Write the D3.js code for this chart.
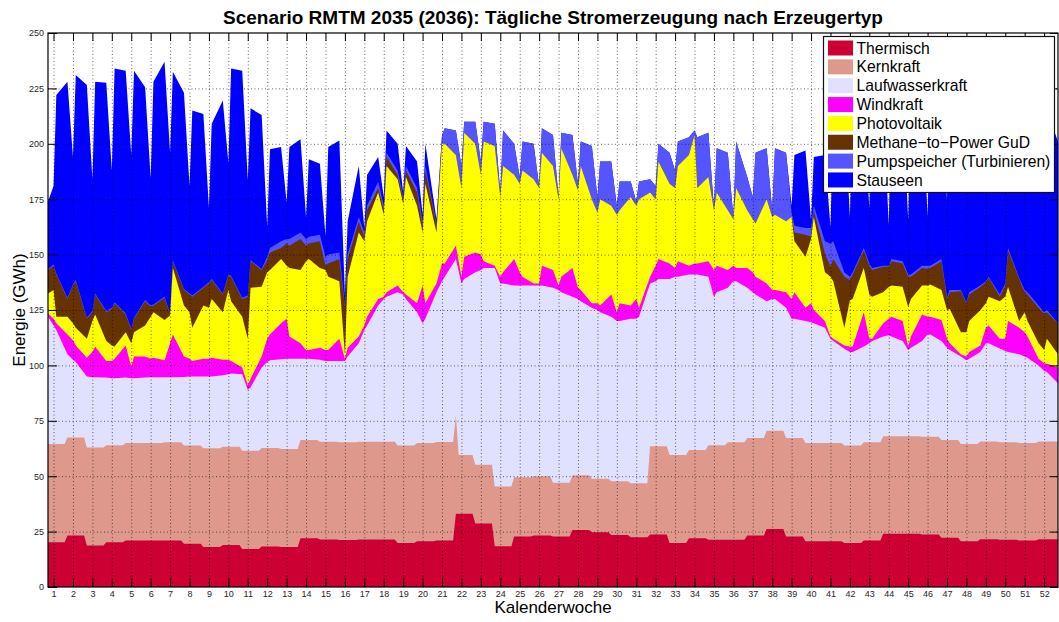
<!DOCTYPE html>
<html>
<head>
<meta charset="utf-8">
<title>Tägliche Stromerzeugung nach Erzeugertyp</title>
<script src="https://d3js.org/d3.v7.min.js"></script>
<style>
  body { margin: 0; background: #fff; }
  svg text { font-family: "Liberation Sans", Arial, Helvetica, sans-serif; }
  .grid line { stroke: #000; stroke-opacity: 0.6; stroke-dasharray: 1,2.5; }
  .grid .domain { display: none; }
</style>
</head>
<body>
<div id="chart"></div>
<script>
// Kalendertage der Stützpunkte (je Woche: Wochenend-Tief, Folgetag, Wochenmitte)
const days = [1,
  3,4,8, 10,11,15, 17,18,22, 24,25,29, 31,32,36, 38,39,43, 45,46,50, 52,53,57, 59,60,64, 66,67,71,
  73,74,78, 80,81,85, 87,88,92, 94,95,99, 101,102,106, 108,109,113, 115,116,120, 122,123,127, 129,130,134, 136,137,141,
  143,144,148, 150,151,155, 157,158,162, 164,165,169, 171,172,176, 178,179,183, 185,186,190, 192,193,197, 199,200,204, 206,207,211,
  213,214,218, 220,221,225, 227,228,232, 234,235,239, 241,242,246, 248,249,253, 255,256,260, 262,263,267, 269,270,274, 276,277,281,
  283,284,288, 290,291,295, 297,298,302, 304,305,309, 311,312,316, 318,319,323, 325,326,330, 332,333,337, 339,340,344, 346,347,351,
  353,354,358, 360,361,365];

// Wochenwerte (Woche j umfasst Tag 7j+1 .. 7j+7), GWh/Tag
const thermisch = [20.2, 23.2, 18.7, 20.2, 21.0, 21.0, 21.0, 19.5, 18.0, 19.0,
  17.2, 18.3, 18.0, 22.0, 21.4, 21.2, 21.4, 21.4, 19.8, 20.7,
  21.0, 33.0, 28.7, 18.4, 22.8, 23.2, 22.8, 25.7, 24.7, 23.5,
  22.5, 23.7, 19.8, 22.0, 21.3, 21.3, 23.2, 26.2, 22.8, 20.7,
  20.7, 19.8, 21.0, 24.0, 24.0, 23.7, 22.2, 20.7, 21.6, 21.3,
  21.0, 21.6, 21.6];
const kernkraft = [44.3, 44.3, 44.3, 43.8, 44.0, 44.0, 44.3, 44.3, 44.6, 44.3,
  44.3, 44.4, 44.3, 44.3, 44.2, 44.1, 44.2, 44.2, 44.0, 44.3,
  44.4, 26.6, 26.5, 26.9, 26.7, 26.8, 24.2, 24.7, 24.1, 24.2,
  24.3, 39.8, 39.8, 39.8, 42.7, 44.0, 44.0, 44.3, 44.4, 44.3,
  44.3, 44.0, 44.3, 44.0, 44.0, 44.1, 44.1, 43.8, 44.1, 44.0,
  44.0, 44.1, 44.1];
const kernkraftTag = { 148: 44.4 };

const laufwasserkraft = [57.5,
  53.5,51.5,37.5, 35,34,32, 31.7,31.7,30.5, 30.2,30.2,29.5, 29.2,29.2,29.5, 29.7,29.7,29.4, 29.4,29.4,31, 31.2,31.2,32.4, 32.4,32.4,32.2, 32.7,33,34.5,
  27.5,28.5,36.3, 38.8,39.6,40.5, 40.7,40.7,36.7, 36.7,36.7,36.9, 36.4,36.4,36.7, 36.7,38.7,44.4, 50.4,52.4,61.4, 64.4,65.4,69.2, 68.2,66.2,59, 54,56,67.6,
  72.6,74.6,70.6, 77.4,79.4,86.8, 87.8,88.8,98.7, 91.7,91.7,86.5, 86.5,86.5,86, 86,86,88, 87,86,80.6, 79.6,78.6,77.2, 76.2,75.2,74.3, 72.3,72.3,74.2,
  74.2,75.2,73.5, 74.5,75.5,79.4, 80.4,80.4,79.2, 79.2,79.2,76, 67,69,69.7, 72.7,72.7,67.8, 65.8,64.8,58.5, 59.5,59.5,58.8, 53.8,53.8,55, 54.5,54,52,
  47,46,43.7, 42.3,42.2,43.2, 44.7,45.7,45, 45.6,45,43, 39,40,43.2, 46.2,46.2,44.7, 41.7,40.7,39.5, 37.8,38.5,40.3, 44.2,44.3,42.3, 41.2,40.7,40,
  39,38.5,34.3, 31.8,31.3,26.3];
const windkraft = [1.4,
  3,3,9, 8.9,7.5,8.5, 11.3,13.7,7.5, 7.8,8.8,14.5, 5.3,9.8,9.5, 8.3,8.8,7.6, 15.3,19.3,9.2, 8,7,8, 8,8.5,7, 6.5,5.7,3,
  2,4,5, 10.5,11.7,16.2, 18,10,7, 4,4,5.5, 5,5,10, 1,4,3, 2,4,3, 1,2,3, 1,2,4, 17,7,4,
  8,6,6, 3,10,9, 7,3,1, 3,5,12, 6,4,1, 1,9,8, 2,7,13, 5,5,2, 3,3,10, 4,8,6,
  9,4,3, 7,9,7, 4,7,4, 5,5,7, 12,12,8, 7,6,9, 9,8,8, 4,4,7, 9,12,6, 8.5,6,3,
  1,1,1.5, 2.3,2.5,15.5, 2,1,6, 7.4,9,9, 1.4,5,12, 8,8,9.5, 4,3,1, 1.7,3,3, 7.1,8,4.4, 5.5,14,12,
  11,9.5,3, 3.5,3.8,7];
const photovoltaik = [9.1,
  13,3,8, 7.6,8,8.5, 14,14.6,9, 7,5.5,6, 10.5,11,14, 19,20.5,18.2, 12.5,30,23, 21,15,24, 23,26.5,21.5, 31.5,27,23,
  21,41,31.5, 30,29,29, 24,31,33, 40,41,36, 36,33,26, 2,32,47, 38,43,48, 37,57,48, 40,53,44, 24,54,23,
  54,54,41, 40,56,49, 36,54,54, 36,48,38, 40,48,47, 43,51,47, 39,58,42, 44,56,47, 41,48,40, 44,42,49,
  42,49,38, 30,44,36, 36,43,50, 58,34,38, 27,33,27, 21,36,26, 24,24,38, 33,34,32, 37,23,23, 29,42,22,
  27,26,8, 21,21.5,20, 20,19,14, 14.4,14,15.5, 18,17,13, 14,14.5,13.5, 13,15.5,10, 11,14,15.9, 11,13,17, 19,15.4,3,
  9,7,7, 6,11.2,6];
const methaneGuD = [10.5,
  11,19,8, 17,21,9, 4,9,13, 16.5,19.5,8, 6,6,11, 4.5,3,10, 0.5,3,7, 8,14,8, 11,8.5,8, 6.5,11,8,
  19,12,7.5, 5.5,8,5, 10,10,14, 7,7,12, 2,6,10, 21,8,5, 2,5,2, 2,4,2, 2,3,6, 3,6,3,
  0,0,0, 0,0,0, 0,0,0, 0,0,0, 0,0,0, 0,0,0, 0,0,0, 0,0,0, 0,0,0, 0,0,0,
  0,0,0, 0,0,0, 0,0,0, 0,0,0, 0,0,0, 0,0,0, 0,0,0, 0,0,0, 0,4,10, 1,3,8.5,
  4.5,10,23, 9.1,11,8, 13,12,11.5, 9.1,11,10.5, 13.6,10,8, 7.5,7.5,13, 5,7.5,18.5, 13,12,10.5, 9.5,8.5,2, 5,16.6,19,
  9,12,16, 16.4,12,13.9];
const pumpspeicher = [0.5,
  0.5,0.5,0.5, 0.5,0.5,0.5, 0.5,0.5,0.5, 0.5,0.5,0.5, 0.5,0.5,0.5, 0.5,0.5,0.5, 0.5,0.5,0.5, 0.5,0.5,0.5, 0.5,0.5,0.5, 0.5,0.5,0.5,
  0.5,0.5,0.5, 1.5,2,3, 2,3,3, 3,3,3, 4,4,3, 1,2,2, 2,2,3, 2,2,2, 1,2,2, 2,2,1,
  4,7,11, 10,5,10, 6,9,10, 2,16,14, 3,13,16, 1,11,14, 1,7,18, 3,11,24, 7,17,20, 4,13,7,
  2,8,6, 6,8,14, 8,11,8, 2,23,20, 1,20,26, 1,21,15, 10,32,23, 3,30,31, 2,3,3, 4,2,5.5,
  10.5,8,2, 1.5,1,1, 1,1,0.5, 0.5,1,1, 1,1,1, 1.5,1,1, 1,1,0.5, 0.5,1,0.6, 0.5,0.5,1, 1,1,0.5,
  1,1,1, 0.6,1,0.1];
const stauseen = [30.5,
  35.5,80.5,97.5, 57.5,92.5,105, 59.5,95.5,103, 62,105.5,109.5, 78.5,111.5,96, 57.5,100.5,106, 72.5,85,88.5, 48.5,83.5,78, 33.5,70,87, 50.5,93.5,102.5,
  52,68.5,69.5, 13.5,44.5,42.5, 16.5,41.5,42, 9.7,35,32, 9.4,48.5,50.5, 5,15,23, 2,14,11, 4,10,12, 2,9,12, 3,10,2,
  0,0,0, 0,0,0, 0,0,0, 0,0,0, 0,0,0, 0,0,0, 0,0,0, 0,0,0, 0,0,0, 0,0,0,
  0,0,0, 0,0,0, 0,0,0, 0,0,0, 0,0,0, 0,0,0, 0,0,0, 0,0,0, 3,32,35, 3.5,22,39,
  7.5,56,74, 27,72,65, 24.8,74,75, 18.3,72,75, 24.5,81,79, 22,79,78, 43.6,92,92, 56.5,93,92, 48,88,98, 51,77,109.5,
  56,99,105, 61,90,82];

const kalenderwochen = [1,2,3,4,5,6,7,8,9,10,11,12,13,14,15,16,17,18,19,20,21,22,23,24,25,26,
  27,28,29,30,31,32,33,34,35,36,37,38,39,40,41,42,43,44,45,46,47,48,49,50,51,52];
const yTicks = [0, 25, 50, 75, 100, 125, 150, 175, 200, 225, 250];

const colors = {
  'Thermisch': '#CC0033',
  'Kernkraft': '#DF998C',
  'Laufwasserkraft': '#E0E0FF',
  'Windkraft': '#FF00FF',
  'Photovoltaik': '#FFFF00',
  'Methane\u2212to\u2212Power GuD': '#663300',
  'Pumpspeicher (Turbinieren)': '#5555FF',
  'Stauseen': '#0000FF'
};

const width = 1059, height = 622;
const margin = { top: 33, right: 1, bottom: 35, left: 48 };
const plotW = width - margin.left - margin.right;
const plotH = height - margin.top - margin.bottom;

const x = d3.scaleLinear().domain([1, 365]).range([margin.left, margin.left + plotW]);
const y = d3.scaleLinear().domain([0, 250]).range([margin.top + plotH, margin.top]);

const svg = d3.select('#chart').append('svg')
  .attr('width', width)
  .attr('height', height);

const week = d => Math.floor((d - 1) / 7);
const thermAt = d => thermisch[week(d)];
const kernAt = d => (kernkraftTag[d] !== undefined ? kernkraftTag[d] : kernkraft[week(d)]);

// Stützpunkte der Wochenreihen: Anfang und Ende jeder Woche
let stepDays = [];
thermisch.forEach((v, j) => stepDays.push(7 * j + 1, Math.min(7 * j + 7, 365)));
Object.keys(kernkraftTag).forEach(k => stepDays.push(+k, +k + 1));
stepDays = Array.from(new Set(stepDays)).sort((a, b) => a - b);

const layers = [
  { name: 'Thermisch', pts: stepDays.map(d => [d, thermAt(d)]) },
  { name: 'Kernkraft', pts: stepDays.map(d => [d, thermAt(d) + kernAt(d)]) }
];

const daily = [
  ['Laufwasserkraft', laufwasserkraft],
  ['Windkraft', windkraft],
  ['Photovoltaik', photovoltaik],
  ['Methane\u2212to\u2212Power GuD', methaneGuD],
  ['Pumpspeicher (Turbinieren)', pumpspeicher],
  ['Stauseen', stauseen]
];
daily.forEach(([name, vals]) => {
  if (vals.length !== days.length) throw new Error(name + ': ' + vals.length + ' != ' + days.length);
});

let cum = days.map(d => thermAt(d) + kernAt(d));
daily.forEach(([name, vals]) => {
  cum = cum.map((c, i) => c + vals[i]);
  layers.push({ name, pts: days.map((d, i) => [d, cum[i]]) });
});

const area = d3.area()
  .x(p => x(p[0]))
  .y0(y(0))
  .y1(p => y(p[1]));

// gestapelte Flächen, oberste Summe zuerst
svg.append('g')
  .selectAll('path')
  .data(layers.slice().reverse())
  .join('path')
  .attr('d', l => area(l.pts))
  .attr('fill', l => colors[l.name]);

const weekDay = k => 7 * k - 4;
const xTickDays = kalenderwochen.map(weekDay);

// Gitter
svg.append('g')
  .attr('class', 'grid')
  .attr('transform', `translate(0,${y(0)})`)
  .call(d3.axisBottom(x).tickValues(xTickDays).tickSize(-plotH).tickFormat(''));
svg.append('g')
  .attr('class', 'grid')
  .attr('transform', `translate(${margin.left},0)`)
  .call(d3.axisLeft(y).tickValues(yTicks.slice(1, -1)).tickSize(-plotW).tickFormat(''));

const axisFont = g => g.attr('font-family', '"Liberation Sans", Arial, sans-serif')
  .attr('font-size', 9).attr('color', '#000')
  .call(g => g.select('.domain').remove())
  .call(g => g.selectAll('text').attr('fill', '#262626'));

svg.append('g')
  .attr('transform', `translate(0,${y(0)})`)
  .call(d3.axisBottom(x).tickValues(xTickDays).tickFormat((d, i) => kalenderwochen[i])
    .tickSizeInner(-9).tickSizeOuter(0).tickPadding(4))
  .call(axisFont);
svg.append('g')
  .attr('transform', `translate(0,${y(250)})`)
  .call(d3.axisTop(x).tickValues(xTickDays).tickFormat('').tickSizeInner(-8).tickSizeOuter(0))
  .call(axisFont);
svg.append('g')
  .attr('transform', `translate(${margin.left},0)`)
  .call(d3.axisLeft(y).tickValues(yTicks).tickSizeInner(-9).tickSizeOuter(0).tickPadding(4))
  .call(axisFont);
svg.append('g')
  .attr('transform', `translate(${margin.left + plotW},0)`)
  .call(d3.axisRight(y).tickValues(yTicks).tickFormat('').tickSizeInner(-8).tickSizeOuter(0))
  .call(axisFont);

svg.append('rect')
  .attr('x', margin.left)
  .attr('y', margin.top)
  .attr('width', plotW)
  .attr('height', plotH)
  .attr('fill', 'none')
  .attr('stroke', '#000')
  .attr('stroke-width', 1.2);

// Beschriftungen
svg.append('text')
  .attr('x', margin.left + plotW / 2)
  .attr('y', 23.5)
  .attr('text-anchor', 'middle')
  .style('font-size', '19px')
  .style('font-weight', 'bold')
  .text('Scenario RMTM 2035 (2036): Tägliche Stromerzeugung nach Erzeugertyp');

svg.append('text')
  .attr('transform', 'translate(25,310) rotate(-90)')
  .attr('text-anchor', 'middle')
  .style('font-size', '17px')
  .text('Energie (GWh)');

svg.append('text')
  .attr('x', margin.left + plotW / 2)
  .attr('y', 613)
  .attr('text-anchor', 'middle')
  .style('font-size', '17px')
  .text('Kalenderwoche');

// Legende
const legendNames = Object.keys(colors);
const legend = svg.append('g');
legend.append('rect')
  .attr('x', 823.5).attr('y', 36.5)
  .attr('width', 231).attr('height', 156)
  .attr('fill', '#fff')
  .attr('stroke', '#111')
  .attr('stroke-width', 1.2);
const item = legend.selectAll('g.item')
  .data(legendNames)
  .join('g')
  .attr('class', 'item')
  .attr('transform', (d, i) => `translate(0,${48 + i * 18.85})`);
item.append('rect')
  .attr('x', 828).attr('y', -7.5)
  .attr('width', 25).attr('height', 15)
  .attr('fill', d => colors[d]);
item.append('text')
  .attr('x', 856.5).attr('y', 5.6)
  .style('font-size', '15.7px')
  .text(d => d);
</script>
</body>
</html>
